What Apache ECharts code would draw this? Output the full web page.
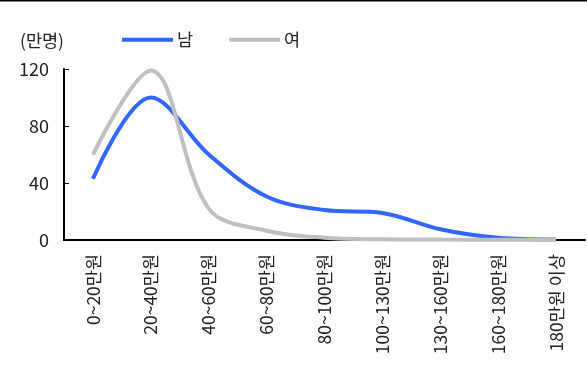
<!DOCTYPE html>
<html>
<head>
<meta charset="utf-8">
<script src="https://cdn.jsdelivr.net/npm/echarts@6/dist/echarts.min.js"></script>
<style>
html,body{margin:0;padding:0;background:#fff;}
#c{width:587px;height:385px;}
</style>
</head>
<body>
<div id="c"></div>
<script>
const categories = ['0~20만원','20~40만원','40~60만원','60~80만원','80~100만원','100~130만원','130~160만원','160~180만원','180만원 이상'];
const male = [43, 100, 60, 30.5, 21, 19, 7.5, 1.5, 0.3];
const female = [60, 119, 22, 6.5, 1.6, 0.5, 0.3, 0.2, 0.2];
const yTicks = [0, 40, 80, 120];
const unitLabel = '(만명)';

const FONT = '"Noto Sans CJK KR", "Noto Sans", sans-serif';
const chart = echarts.init(document.getElementById('c'), null, {renderer: 'canvas'});
chart.setOption({
  animation: false,
  backgroundColor: '#fff',
  textStyle: {fontFamily: FONT, color: '#222'},
  graphic: [
    {type: 'rect', shape: {x: 0, y: 0, width: 587, height: 1.6}, style: {fill: '#000'}},
    {type: 'text', x: 20, y: 40, style: {text: unitLabel, font: '17.5px ' + FONT, fill: '#222', textVerticalAlign: 'middle'}}
  ],
  legend: {
    data: ['남', '여'],
    left: 122,
    top: 31,
    icon: 'rect',
    itemWidth: 51,
    itemHeight: 4,
    itemGap: 36,
    padding: 0,
    textStyle: {fontSize: 17.5, fontFamily: FONT, color: '#222', padding: [0, 0, 0, -1]}
  },
  grid: {left: 64, right: 2, top: 69, bottom: 145, containLabel: false},
  xAxis: {
    type: 'category',
    data: categories,
    boundaryGap: true,
    axisLine: {lineStyle: {color: '#000', width: 2}},
    axisTick: {inside: true, length: 5, lineStyle: {color: '#000', width: 1}},
    axisLabel: {rotate: 90, margin: 14, fontSize: 17.5, fontFamily: FONT, color: '#222', interval: 0}
  },
  yAxis: {
    type: 'value',
    min: yTicks[0],
    max: yTicks[yTicks.length - 1],
    interval: yTicks[1] - yTicks[0],
    axisLine: {show: true, lineStyle: {color: '#000', width: 2}},
    axisTick: {show: true, inside: true, length: 5, lineStyle: {color: '#000', width: 1}},
    splitLine: {show: false},
    axisLabel: {margin: 15, fontSize: 18, fontFamily: FONT, color: '#222'}
  },
  series: [
    {name: '남', type: 'line', data: male, smooth: 0.35, symbol: 'none',
     lineStyle: {width: 4, color: '#3366FF'}, itemStyle: {color: '#3366FF'}},
    {name: '여', type: 'line', data: female, smooth: 0.35, symbol: 'none',
     lineStyle: {width: 4, color: '#BFBFBF'}, itemStyle: {color: '#BFBFBF'}}
  ]
});
</script>
</body>
</html>
